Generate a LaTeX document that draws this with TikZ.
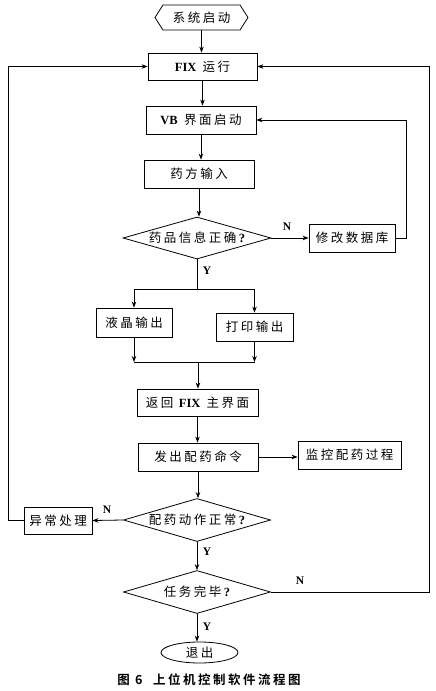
\documentclass[tikz,border=0pt]{standalone}
\usepackage{fontspec}
\setmainfont{Liberation Serif}
\newfontfamily\cjk[LetterSpace=20]{Noto Sans CJK SC}
\newfontfamily\cjkcap[LetterSpace=20]{Noto Sans CJK SC Bold}
\usetikzlibrary{shapes.geometric,shapes.symbols,arrows.meta}
\begin{document}
\begin{tikzpicture}[x=1pt,y=-1pt,
  every node/.style={font=\fontsize{12.5}{14}\selectfont},
  proc/.style={draw, line width=0.8pt, rectangle, inner sep=0pt},
  decision/.style={draw, line width=0.8pt, diamond, inner sep=0pt},
  yn/.style={font=\fontsize{11.5}{13}\selectfont\bfseries, inner sep=0pt},
  line/.style={line width=0.8pt},
  arr/.style={line width=0.8pt, -{Stealth[length=6pt,width=4.5pt]}}]
\useasboundingbox (0,0) rectangle (436,691);
% nodes
\node[draw, line width=0.8pt, signal, signal to=east and west, signal pointer angle=115,
      minimum width=93pt, minimum height=25pt, inner sep=0pt] (start) at (201.5,17.5) {\cjk 系统启动};
\node[proc, minimum width=109pt, minimum height=27pt] (fix) at (202.5,66.5) {\textbf{FIX}\ \ {\cjk 运行}};
\node[proc, minimum width=110pt, minimum height=28pt] (vb) at (201,120) {\textbf{VB}\ \ {\cjk 界面启动}};
\node[proc, minimum width=110pt, minimum height=28pt] (yf) at (199,174) {\cjk 药方输入};
\node[decision, minimum width=148pt, minimum height=42pt,
      label={center:{\cjk 药品信息正确}\textbf{?}}] (d1) at (197,238) {};
\node[proc, minimum width=86pt, minimum height=28pt] (xg) at (352,238) {\cjk 修改数据库};
\node[proc, minimum width=76pt, minimum height=29pt] (yj) at (134,322.5) {\cjk 液晶输出};
\node[proc, minimum width=77pt, minimum height=28pt] (dy) at (254.5,327) {\cjk 打印输出};
\node[proc, minimum width=121pt, minimum height=27pt] (fh) at (197.5,402.5) {{\cjk 返回}\ \textbf{FIX}\ \ {\cjk 主界面}};
\node[proc, minimum width=120pt, minimum height=28pt] (fc) at (198,457) {\cjk 发出配药命令};
\node[proc, minimum width=103pt, minimum height=28pt] (jk) at (349.5,455) {\cjk 监控配药过程};
\node[decision, minimum width=147pt, minimum height=43pt,
      label={center:{\cjk 配药动作正常}\textbf{?}}] (d2) at (197,520) {};
\node[proc, minimum width=68pt, minimum height=27pt] (yc) at (58,520.5) {\cjk 异常处理};
\node[decision, minimum width=147pt, minimum height=43pt,
      label={center:{\cjk 任务完毕}\textbf{?}}] (d3) at (197,592) {};
\node[draw, line width=0.8pt, ellipse, minimum width=77pt, minimum height=21pt, inner sep=0pt] (tc) at (199.5,652.5) {\cjk 退出};
\node[font=\fontsize{12.5}{14}\selectfont] (cap) at (209,680) {\cjkcap 图\ 6\ \ 上位机控制软件流程图};
% labels
\node[yn] (n1) at (287,227) {N};
\node[yn] (y1) at (207,271) {Y};
\node[yn] (n2) at (107,510) {N};
\node[yn] (y2) at (207,552) {Y};
\node[yn] (n3) at (300,581) {N};
\node[yn] (y3) at (207,627) {Y};
% coordinates
\coordinate (split) at (197,289);
\coordinate (merge) at (198,362);
% connectors
\draw[arr] (start.south) -- (start.south |- fix.north);
\draw[arr] (fix.south) -- (fix.south |- vb.north);
\draw[arr] (vb.south) -- (vb.south |- yf.north);
\draw[arr] (yf.south) -- (yf.south |- d1.north);
\draw[arr] (d1.east) -- (xg.west);
\draw[arr] (xg.east) -- ++(11,0) |- (vb.east);
\draw[line] (d1.south) -- (split);
\draw[arr] (split) -| (yj.north);
\draw[arr] (split) -| (dy.north);
\draw[arr] (yj.south) -- (yj.south |- merge);
\draw[arr] (dy.south) -- (dy.south |- merge);
\draw[line] (yj.south |- merge) -- (dy.south |- merge);
\draw[arr] (merge) -- (merge |- fh.north);
\draw[arr] (fh.south) -- (fh.south |- fc.north);
\draw[arr] (fc.east) -- (fc.east -| jk.west);
\draw[arr] (fc.south) -- (fc.south |- d2.north);
\draw[arr] (d2.west) -- (yc.east);
\draw[arr] (yc.west) -- ++(-15,0) |- (fix.west);
\draw[arr] (d2.south) -- (d3.north);
\draw[arr] (d3.east) -- ++(158,0) |- (fix.east);
\draw[arr] (d3.south) -- (d3.south |- tc.north);
\end{tikzpicture}
\end{document}
